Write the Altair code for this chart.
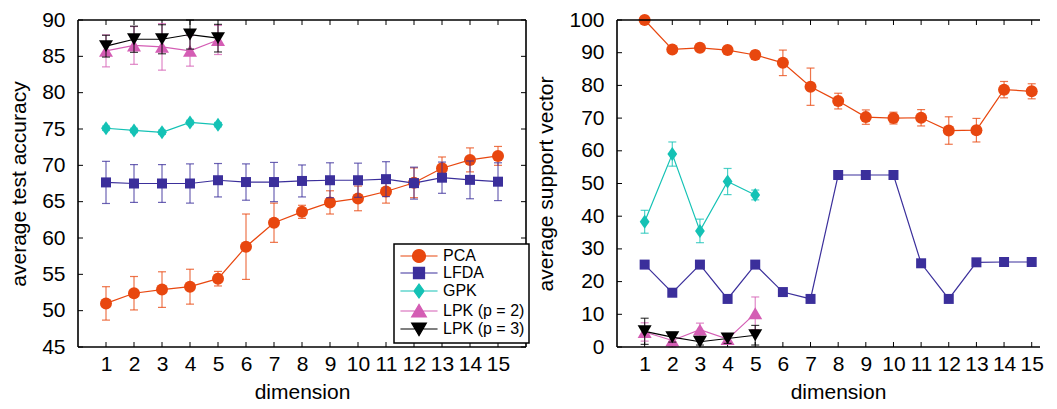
import altair as alt
import pandas as pd

# ---------------- data ----------------
dims = list(range(1, 16))
dims5 = [1, 2, 3, 4, 5]

series_names = ["PCA", "LFDA", "GPK", "LPK (p = 2)", "LPK (p = 3)"]
series_colors = ["#E8470F", "#3B2F9B", "#14C2B5", "#D45DB4", "#000000"]

# left panel: average test accuracy (mean, half error bar)
pca_acc = [51.0, 52.4, 52.9, 53.3, 54.4, 58.8, 62.1, 63.6, 64.9, 65.45, 66.4, 67.6, 69.6, 70.75, 71.3]
pca_acc_err = [2.3, 2.3, 2.45, 2.4, 1.0, 4.5, 2.7, 0.9, 1.6, 1.7, 1.6, 2.05, 1.55, 1.65, 1.3]
lfda_acc = [67.65, 67.5, 67.5, 67.5, 67.95, 67.7, 67.7, 67.85, 67.95, 67.95, 68.1, 67.55, 68.3, 68.0, 67.75]
lfda_acc_err = [2.9, 2.6, 2.6, 2.7, 2.3, 2.5, 2.7, 2.2, 2.4, 2.35, 2.4, 2.2, 2.15, 2.6, 2.6]
gpk_acc = [75.1, 74.8, 74.55, 75.9, 75.6]
gpk_acc_err = [0.3, 0.3, 0.3, 0.3, 0.3]
lpk2_acc = [85.75, 86.5, 86.3, 85.75, 87.25]
lpk2_acc_err = [2.2, 2.6, 3.2, 2.1, 2.0]
lpk3_acc = [86.4, 87.35, 87.35, 88.0, 87.5]
lpk3_acc_err = [1.5, 1.8, 2.0, 2.0, 1.9]

# right panel: average support vector
pca_sv = [100.0, 91.0, 91.5, 90.8, 89.3, 86.9, 79.6, 75.2, 70.3, 70.0, 70.1, 66.2, 66.3, 78.7, 78.2]
pca_sv_err = [0.0, 0.5, 0.5, 0.5, 1.2, 3.9, 5.7, 2.4, 2.2, 1.8, 2.5, 4.2, 3.6, 2.5, 2.3]
lfda_sv = [25.2, 16.6, 25.2, 14.7, 25.2, 16.8, 14.7, 52.6, 52.6, 52.6, 25.6, 14.7, 25.9, 26.0, 26.0]
lfda_sv_err = [0.0] * 15
gpk_sv = [38.3, 59.0, 35.5, 50.6, 46.5]
gpk_sv_err = [3.5, 3.7, 3.6, 4.0, 1.5]
lpk2_sv = [4.6, 2.0, 5.3, 2.4, 10.3]
lpk2_sv_err = [2.8, 2.0, 2.0, 1.5, 5.0]
lpk3_sv = [4.8, 3.0, 1.6, 2.6, 3.6]
lpk3_sv_err = [4.0, 1.5, 1.0, 1.5, 3.0]

x_ticks = dims
acc_ticks = [45, 50, 55, 60, 65, 70, 75, 80, 85, 90]
sv_ticks = [0, 10, 20, 30, 40, 50, 60, 70, 80, 90, 100]

# ---------------- styles ----------------
FONT = "Liberation Sans"
marker_shapes = ["circle", "square", "M-0.7,0L0,-1L0.7,0L0,1Z",
                 "M0,-0.85L1,0.85L-1,0.85Z", "M0,0.85L1,-0.85L-1,-0.85Z"]
marker_sizes = [144, 100, 196, 196, 196]
# legend symbols: a line segment with the marker on it (unit = 7 px)
legend_paths = [
    "M-2.65,0L2.65,0M-0.93,0A0.93,0.93,0,1,0,0.93,0A0.93,0.93,0,1,0,-0.93,0Z",
    "M-2.65,0L2.65,0M-0.79,-0.79L0.79,-0.79L0.79,0.79L-0.79,0.79Z",
    "M-2.65,0L2.65,0M-0.72,0L0,-1.0L0.72,0L0,1.0Z",
    "M-2.65,0L2.65,0M0,-0.95L1.05,0.85L-1.05,0.85Z",
    "M-2.65,0L2.65,0M0,0.95L1.05,-0.85L-1.05,-0.85Z",
]

TICK = 5
PLOT_H = 327
FRAME_W = 1.6


def panel(series, x_max, y_domain, y_ticks, y_title, width, height, with_legend,
          right_frame, x_title_x):
    xs = alt.Scale(domain=[0, x_max], nice=False, zero=False)
    ys = alt.Scale(domain=y_domain, nice=False, zero=False)
    x_axis = alt.Axis(values=x_ticks, ticks=False, domain=False, grid=False, format="d",
                      labelFontSize=21, labelFont=FONT, labelColor="black", labelPadding=6,
                      labelOverlap=False, labelFlush=False,
                      title="dimension", titleFontSize=21, titleFont=FONT, titleX=x_title_x,
                      titleFontWeight="normal", titleColor="black", titlePadding=7)
    y_axis = alt.Axis(values=y_ticks, ticks=False, domain=False, grid=False, format="d",
                      labelFontSize=21, labelFont=FONT, labelColor="black", labelPadding=13,
                      labelOverlap=False, labelFlush=False,
                      title=y_title, titleFontSize=21, titleFont=FONT,
                      titleFontWeight="normal", titleColor="black", titlePadding=12)

    def X(f):
        return alt.X(f, type="quantitative", scale=xs, axis=x_axis)

    def Y(f):
        return alt.Y(f, type="quantitative", scale=ys, axis=y_axis)

    layers = []
    # inward ticks
    xt = pd.DataFrame({"t": x_ticks})
    yt = pd.DataFrame({"t": y_ticks})
    tk = dict(color="black", strokeWidth=1)
    layers.append(alt.Chart(xt).mark_rule(**tk).encode(x=X("t"), y=alt.value(height), y2=alt.value(height - TICK)))
    layers.append(alt.Chart(xt).mark_rule(**tk).encode(x=X("t"), y=alt.value(0), y2=alt.value(TICK)))
    layers.append(alt.Chart(yt).mark_rule(**tk).encode(y=Y("t"), x=alt.value(0), x2=alt.value(TICK)))
    if right_frame:
        layers.append(alt.Chart(yt).mark_rule(**tk).encode(y=Y("t"), x=alt.value(width), x2=alt.value(width - TICK)))

    for i, (xv, yv, ev) in enumerate(series):
        col = series_colors[i]
        df = pd.DataFrame({"dim": xv, "val": yv,
                           "lo": [a - b for a, b in zip(yv, ev)],
                           "hi": [a + b for a, b in zip(yv, ev)],
                           "err": ev})
        edf = df[df["err"] > 0]
        if len(edf):
            base = alt.Chart(edf)
            layers.append(base.mark_rule(color=col, strokeWidth=1.2, opacity=0.75)
                          .encode(x=X("dim"), y=Y("lo"), y2="hi"))
            layers.append(base.mark_tick(color=col, orient="horizontal", size=8, thickness=1.2, opacity=0.75)
                          .encode(x=X("dim"), y=Y("lo")))
            layers.append(base.mark_tick(color=col, orient="horizontal", size=8, thickness=1.2, opacity=0.75)
                          .encode(x=X("dim"), y=Y("hi")))
        base = alt.Chart(df)
        layers.append(base.mark_line(color=col, strokeWidth=1.2).encode(x=X("dim"), y=Y("val")))
        layers.append(base.mark_point(color=col, filled=True, opacity=1, shape=marker_shapes[i],
                                      size=marker_sizes[i]).encode(x=X("dim"), y=Y("val")))

    # frame lines (the right panel is cut at the page edge, as in the original)
    fr = alt.Chart(pd.DataFrame({"t": [0]}))
    fk = dict(color="black", strokeWidth=FRAME_W)
    layers.append(fr.mark_rule(**fk).encode(x=alt.value(0), x2=alt.value(width), y=alt.value(0)))
    layers.append(fr.mark_rule(**fk).encode(x=alt.value(0), x2=alt.value(width), y=alt.value(height)))
    layers.append(fr.mark_rule(**fk).encode(y=alt.value(0), y2=alt.value(height), x=alt.value(0)))
    if right_frame:
        layers.append(fr.mark_rule(**fk).encode(y=alt.value(0), y2=alt.value(height), x=alt.value(width)))

    if with_legend:
        leg = alt.Legend(orient="none", legendX=316, legendY=224, title=None,
                         labelFontSize=16, labelFont=FONT, labelColor="black",
                         symbolSize=196, symbolStrokeWidth=1.2, symbolOpacity=1,
                         rowPadding=0, padding=4, labelOffset=16, symbolOffset=13,
                         strokeColor="black", fillColor="white")
        ldf = pd.DataFrame({"series": series_names})
        layers.append(alt.Chart(ldf).mark_point(filled=True, opacity=0).encode(
            fill=alt.Fill("series:N", sort=series_names,
                          scale=alt.Scale(domain=series_names, range=series_colors), legend=leg),
            stroke=alt.Stroke("series:N", sort=series_names,
                              scale=alt.Scale(domain=series_names, range=series_colors), legend=leg),
            shape=alt.Shape("series:N", sort=series_names,
                            scale=alt.Scale(domain=series_names, range=legend_paths), legend=leg),
        ))

    return alt.layer(*layers).properties(width=width, height=height)


left = panel([
    (dims, pca_acc, pca_acc_err),
    (dims, lfda_acc, lfda_acc_err),
    (dims5, gpk_acc, gpk_acc_err),
    (dims5, lpk2_acc, lpk2_acc_err),
    (dims5, lpk3_acc, lpk3_acc_err),
], 16, [45, 90], acc_ticks, "average test accuracy", 448, PLOT_H, True, True, 224)

right = panel([
    (dims, pca_sv, pca_sv_err),
    (dims, lfda_sv, lfda_sv_err),
    (dims5, gpk_sv, gpk_sv_err),
    (dims5, lpk2_sv, lpk2_sv_err),
    (dims5, lpk3_sv, lpk3_sv_err),
], 15.3, [0, 100], sv_ticks, "average support vector", 423, PLOT_H, False, False, 221)

chart = (
    alt.hconcat(left, right, spacing=4)
    .resolve_scale(fill="independent", stroke="independent", shape="independent")
    .configure_view(stroke="transparent")
    .configure_legend(strokeWidth=1.5)
    .properties(padding=0, background="white")
)

chart.save("out.html", embed_options={"renderer": "svg", "actions": False})
